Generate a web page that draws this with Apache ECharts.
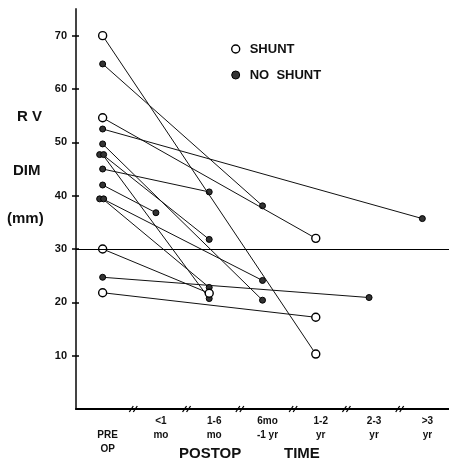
<!DOCTYPE html>
<html>
<head>
<meta charset="utf-8">
<script src="https://cdn.jsdelivr.net/npm/echarts@6/dist/echarts.min.js"></script>
<style>html,body{margin:0;padding:0;background:#fff}#c{width:449px;height:464px}</style>
</head>
<body>
<div id="c"></div>
<script>
// ---- data ----
const categories = ['PRE OP', '<1 mo', '1-6 mo', '6mo -1yr', '1-2 yr', '2-3 yr', '>3 yr'];
const tickLabels = ['\nPRE\nOP', '<1\nmo', '1-6\nmo', '6mo\n-1 yr', '1-2\nyr', '2-3\nyr', '>3\nyr'];
const yTicks = [10, 20, 30, 40, 50, 60, 70];
const shuntPre = [70, 54.6, 30, 21.8];
const shuntPostTime = ['1-2 yr', '1-2 yr', '1-6 mo', '1-2 yr'];
const shuntPost = [10.3, 32, 21.7, 17.2];
const noShuntPre = [64.7, 52.5, 49.7, 47.7, 47.7, 45, 42, 39.4, 39.4, 24.7];
const noShuntPostTime = ['6mo -1yr', '>3 yr', '6mo -1yr', '1-6 mo', '1-6 mo', '1-6 mo', '<1 mo', '6mo -1yr', '1-6 mo', '2-3 yr'];
const noShuntPost = [38.1, 35.7, 20.4, 31.8, 20.7, 40.7, 36.8, 24.1, 22.8, 20.9];
const referenceLine = 30;
const breakIdx = [0, 1, 2, 3, 4, 5];

// ---- styles ----
const FONT = '"Liberation Sans", Arial, sans-serif';
const SHUNT_NAME = 'SHUNT';
const NOSHUNT_NAME = 'NO  SHUNT';
const lineStyle = { color: '#111', width: 1 };
const openStyle = { color: '#fff', borderColor: '#000', borderWidth: 1.4 };
const dotStyle = { color: '#333', borderColor: '#000', borderWidth: 1 };
const dupOffsets = { 3: [-3, 0], 4: [1, 0], 7: [-3, 0], 8: [1, 0] };

const series = [];
noShuntPre.forEach((v, i) => {
  const first = { value: [categories[0], v] };
  if (dupOffsets[i]) first.symbolOffset = dupOffsets[i];
  series.push({
    type: 'line', name: NOSHUNT_NAME, data: [first, [noShuntPostTime[i], noShuntPost[i]]],
    symbol: 'circle', symbolSize: 6, showAllSymbol: true,
    lineStyle: lineStyle, itemStyle: dotStyle, z: 3
  });
});
shuntPre.forEach((v, i) => {
  series.push({
    type: 'line', name: SHUNT_NAME, data: [[categories[0], v], [shuntPostTime[i], shuntPost[i]]],
    symbol: 'circle', symbolSize: 8, showAllSymbol: true,
    lineStyle: lineStyle, itemStyle: openStyle, z: 4
  });
});
series[0].markLine = {
  silent: true, symbol: 'none', label: { show: false },
  lineStyle: { color: '#000', width: 1, type: 'solid' },
  data: [{ yAxis: referenceLine }]
};
// axis break marks "//" between categories
series.push({
  type: 'custom', silent: true, z: 6,
  data: breakIdx.map(i => [i, 0]),
  renderItem: function (params, api) {
    const i = api.value(0);
    const a = api.coord([i, 0]);
    const b = api.coord([i + 1, 0]);
    const mx = (a[0] + b[0]) / 2 + 4;
    const y = a[1];
    const st = { stroke: '#000', lineWidth: 1.3 };
    return {
      type: 'group', children: [
        { type: 'line', shape: { x1: mx - 4, y1: y + 3, x2: mx, y2: y - 3 }, style: st },
        { type: 'line', shape: { x1: mx, y1: y + 3, x2: mx + 4, y2: y - 3 }, style: st }
      ]
    };
  }
});

const chart = echarts.init(document.getElementById('c'), null, { renderer: 'canvas' });
chart.setOption({
  animation: false,
  backgroundColor: '#fff',
  grid: { left: 76, right: 0, top: 9, bottom: 55, containLabel: false },
  xAxis: {
    type: 'category', data: categories, boundaryGap: true,
    axisLine: { lineStyle: { color: '#000', width: 2 } },
    axisTick: { show: false },
    axisLabel: {
      interval: 0, margin: 5, color: '#111', fontFamily: FONT, fontSize: 10, fontWeight: 'bold', lineHeight: 14,
      padding: [0, 0, 0, 10],
      formatter: (v, idx) => tickLabels[idx]
    },
    splitLine: { show: false }
  },
  yAxis: [{
    type: 'value', min: 0, max: 75, interval: 10,
    axisLine: { show: true, lineStyle: { color: '#444', width: 2 } },
    axisTick: { show: true, length: 4, customValues: yTicks, lineStyle: { color: '#000', width: 1.5 } },
    axisLabel: { customValues: yTicks, margin: 9, color: '#111', fontFamily: FONT, fontSize: 11, fontWeight: 'bold' },
    splitLine: { show: false }
  }, {
    type: 'value', min: 0, max: 75, interval: 10, position: 'left',
    axisLine: { show: false },
    axisTick: { show: true, inside: true, length: 3, customValues: yTicks, lineStyle: { color: '#000', width: 1.5 } },
    axisLabel: { show: false },
    splitLine: { show: false }
  }],
  legend: {
    orient: 'vertical', left: 226, top: 36, itemWidth: 18, itemHeight: 8, itemGap: 10,
    textStyle: { color: '#111', fontFamily: FONT, fontSize: 13, fontWeight: 'bold', lineHeight: 16 },
    data: [
      { name: SHUNT_NAME, icon: 'circle', itemStyle: { color: '#fff', borderColor: '#000', borderWidth: 1.4 } },
      { name: NOSHUNT_NAME, icon: 'circle', itemStyle: { color: '#333', borderColor: '#000', borderWidth: 1 } }
    ],
    selectedMode: false
  },
  graphic: [
    { type: 'text', left: 17, top: 109, style: { text: 'R V', font: 'bold 15px ' + FONT, fill: '#111' } },
    { type: 'text', left: 13, top: 163, style: { text: 'DIM', font: 'bold 15px ' + FONT, fill: '#111' } },
    { type: 'text', left: 7, top: 211, style: { text: '(mm)', font: 'bold 15px ' + FONT, fill: '#111' } },
    { type: 'text', left: 179, top: 446, style: { text: 'POSTOP', font: 'bold 15px ' + FONT, fill: '#111' } },
    { type: 'text', left: 284, top: 446, style: { text: 'TIME', font: 'bold 15px ' + FONT, fill: '#111' } }
  ],
  series: series
});
</script>
</body>
</html>
